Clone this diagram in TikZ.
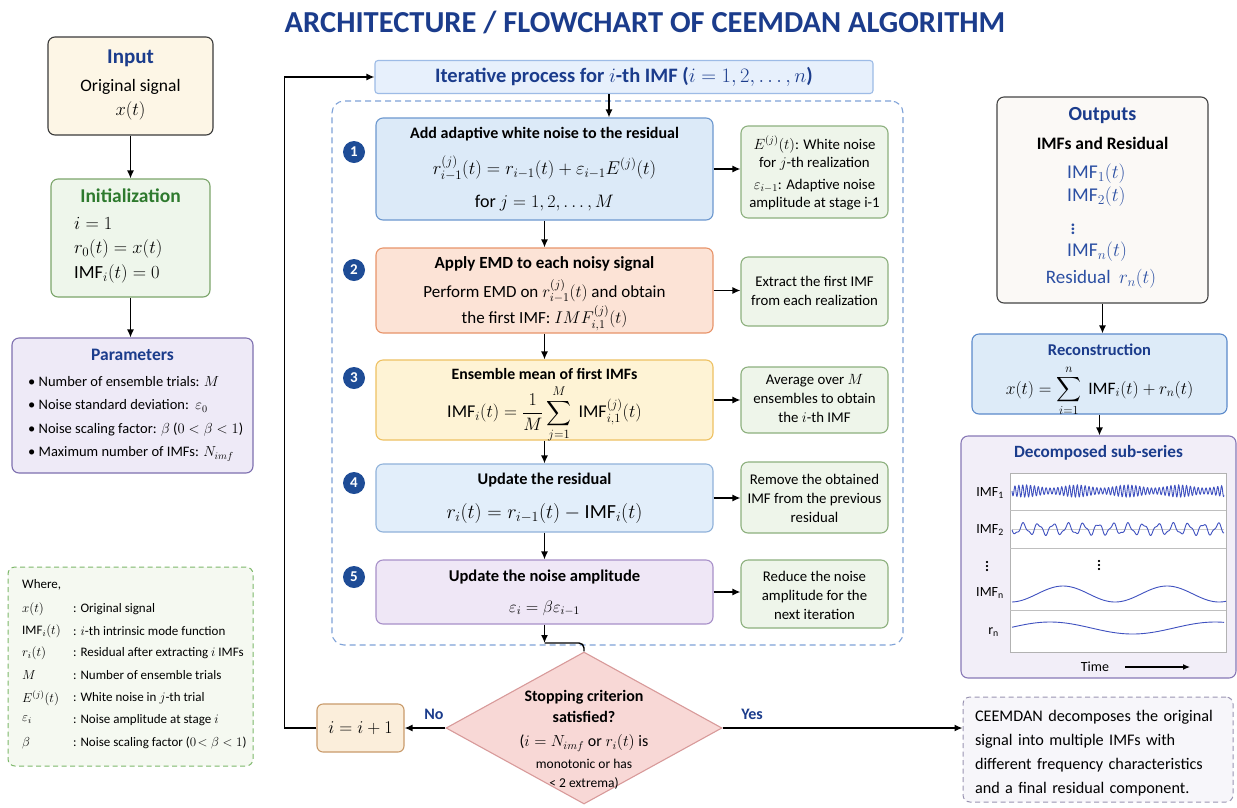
\RequirePackage{fix-cm}
\documentclass[tikz,border=0pt]{standalone}
\usepackage{amsmath}
\usepackage{fontspec}
\setmainfont{Carlito}
\usetikzlibrary{shapes.geometric,arrows.meta,calc}
\newcommand{\fs}[2]{\fontsize{#1}{#2}\selectfont}
\definecolor{titleblue}{HTML}{1B3C8C}
\definecolor{inputfill}{HTML}{FDF6E6}
\definecolor{inputdraw}{HTML}{3A3A3A}
\definecolor{initfill}{HTML}{EEF6EB}
\definecolor{initdraw}{HTML}{7BA56A}
\definecolor{initgreen}{HTML}{2E7A2E}
\definecolor{paramfill}{HTML}{EEEAF7}
\definecolor{paramdraw}{HTML}{7E70B0}
\definecolor{wherefill}{HTML}{F5F9F1}
\definecolor{wheredraw}{HTML}{7DB86A}
\definecolor{headfill}{HTML}{E7F0FC}
\definecolor{headdraw}{HTML}{9DBBE6}
\definecolor{dashblue}{HTML}{7FA2D8}
\definecolor{sAfill}{HTML}{DCEAF8}
\definecolor{sAdraw}{HTML}{6C98CF}
\definecolor{sBfill}{HTML}{FCE3D6}
\definecolor{sBdraw}{HTML}{E8946A}
\definecolor{sCfill}{HTML}{FEF3D5}
\definecolor{sCdraw}{HTML}{EEC162}
\definecolor{sDfill}{HTML}{E2EEFA}
\definecolor{sDdraw}{HTML}{90B2DA}
\definecolor{sEfill}{HTML}{EFE7F6}
\definecolor{sEdraw}{HTML}{A890C9}
\definecolor{circblue}{HTML}{1E4C96}
\definecolor{notefill}{HTML}{EEF5EA}
\definecolor{notedraw}{HTML}{8DB07E}
\definecolor{outfill}{HTML}{FBF9F6}
\definecolor{outdraw}{HTML}{444444}
\definecolor{outblue}{HTML}{2B4FA3}
\definecolor{recfill}{HTML}{DDEBF8}
\definecolor{recdraw}{HTML}{5B8ACB}
\definecolor{decfill}{HTML}{F2EEF8}
\definecolor{decdraw}{HTML}{8878B6}
\definecolor{wavecol}{HTML}{3F51C0}
\definecolor{incfill}{HTML}{FBEEDB}
\definecolor{incdraw}{HTML}{C99B6B}
\definecolor{diafill}{HTML}{F8D8D6}
\definecolor{diadraw}{HTML}{D89A9A}
\definecolor{sumfill}{HTML}{F7F6FA}
\definecolor{sumdraw}{HTML}{9A94B2}
\begin{document}
\begin{tikzpicture}[x=1pt,y=-1pt,
  arr/.style={-{Latex[length=8pt,width=7pt]}, line width=1.4pt},
  box/.style={draw, rounded corners=7pt, line width=1.1pt, inner sep=0pt},
  sz/.style n args={2}{minimum width=#1pt, minimum height=#2pt},
  lab/.style={inner sep=0pt, align=center},
  num/.style={circle, fill=circblue, text=white, font=\fs{15}{17}\bfseries, minimum size=22pt, inner sep=0pt},
  notetxt/.style={inner sep=0pt, align=center, font=\fs{14.8}{19}},
  wave/.style={wavecol, line width=0.9pt},
]
\useasboundingbox (0,0) rectangle (1237,807);
\fill[white] (0,0) rectangle (1237,807);

% title
\node[lab, font=\fs{30.5}{36}\bfseries, text=titleblue] (title) at (645,22) {ARCHITECTURE / FLOWCHART OF CEEMDAN ALGORITHM};

% ---------- left column ----------
\node[box, sz={165}{98}, fill=inputfill, draw=inputdraw] (inp) at (130.5,86) {};
\node[lab, font=\fs{21}{25}\bfseries, text=titleblue] (inpT) at (130.5,58) {Input};
\node[lab, font=\fs{17.5}{20}] (inpA) at (130.5,87) {Original signal};
\node[lab, font=\fs{18.5}{21}] (inpB) at (130.5,111) {$x(t)$};

\node[box, sz={159}{118}, fill=initfill, draw=initdraw] (init) at (130.5,238) {};
\node[lab, font=\fs{19.5}{23}\bfseries, text=initgreen] (initT) at (130.5,196) {Initialization};
\node[lab, anchor=west, font=\fs{18.5}{21}] (initA) at (74,223) {$i = 1$};
\node[lab, anchor=west, font=\fs{18.5}{21}] (initB) at (74,249) {$r_0(t) = x(t)$};
\node[lab, anchor=west, font=\fs{18.5}{21}] (initC) at (74,274) {$\mathrm{IMF}_i(t) = 0$};

\node[box, sz={241}{135}, fill=paramfill, draw=paramdraw] (par) at (132.5,405.5) {};
\node[lab, font=\fs{17.5}{20}\bfseries, text=titleblue] (parT) at (132.5,355) {Parameters};
\node[lab, anchor=west, font=\fs{14.5}{17}] (parA) at (28,382) {\textbullet\ Number of ensemble trials: $M$};
\node[lab, anchor=west, font=\fs{14.5}{17}] (parB) at (28,406) {\textbullet\ Noise standard deviation:\ \ $\varepsilon_0$};
\node[lab, anchor=west, font=\fs{14.5}{17}] (parC) at (28,430) {\textbullet\ Noise scaling factor: $\beta$ ($0<\beta<1$)};
\node[lab, anchor=west, font=\fs{14.5}{17}] (parD) at (28,454) {\textbullet\ Maximum number of IMFs: $N_{imf}$};

\draw[arr] (inp.south) -- (init.north);
\draw[arr] (init.south) -- (init.south |- par.north);

% where box
\node[box, sz={245}{199}, fill=wherefill, draw=wheredraw, dashed, dash pattern=on 5pt off 3.5pt, line width=1pt] (where) at (130.5,666.5) {};
\node[lab, anchor=west, font=\fs{13}{15}] (wh0) at (22,585) {Where,};
\foreach \i/\s/\d/\y in {1/{$x(t)$}/{: Original signal}/609,
  2/{IMF$_i(t)$}/{: $i$-th intrinsic mode function}/631,
  3/{$r_i(t)$}/{: Residual after extracting $i$ IMFs}/653,
  4/{$M$}/{: Number of ensemble trials}/675,
  5/{$E^{(j)}(t)$}/{: White noise in $j$-th trial}/698,
  6/{$\varepsilon_i$}/{: Noise amplitude at stage $i$}/720,
  7/{$\beta$}/{: Noise scaling factor ($0\!<\beta<1$)}/743}{
  \node[lab, anchor=west, font=\fs{13}{15}] (whs\i) at (22,\y) {\s};
  \node[lab, anchor=west, font=\fs{13}{15}] (whd\i) at (73,\y) {\d};
}

% ---------- middle ----------
\node[box, sz={498}{33}, fill=headfill, draw=headdraw, rounded corners=3pt] (head) at (624,77) {};
\node[lab, font=\fs{20.5}{24}\bfseries, text=titleblue] (headT) at (624,77) {Iterative process for $i$-th IMF ($i = 1, 2, \ldots, n$)};

\node[draw=dashblue, dashed, dash pattern=on 6pt off 4pt, line width=1.1pt, rounded corners=12pt, sz={571}{544}, inner sep=0pt] (loop) at (617.5,373) {};

\node[box, sz={337}{102}, fill=sAfill, draw=sAdraw] (s1) at (544.5,169) {};
\node[lab, font=\fs{16}{18}\bfseries] (s1T) at (544.5,134) {Add adaptive white noise to the residual};
\node[lab, font=\fs{18.5}{21}] (s1A) at (544.5,168) {$r_{i-1}^{(j)}(t) = r_{i-1}(t) + \varepsilon_{i-1}E^{(j)}(t)$};
\node[lab, font=\fs{18}{21}] (s1B) at (544.5,203) {for $j = 1, 2, \ldots, M$};

\node[box, sz={337}{85}, fill=sBfill, draw=sBdraw] (s2) at (544.5,290.5) {};
\node[lab, font=\fs{17}{19}\bfseries] (s2T) at (544.5,264) {Apply EMD to each noisy signal};
\node[lab, font=\fs{17}{19}] (s2A) at (544.5,291) {Perform EMD on $r_{i-1}^{(j)}(t)$ and obtain};
\node[lab, font=\fs{17}{19}] (s2B) at (544.5,318) {the first IMF: $IMF_{i,1}^{(j)}(t)$};

\node[box, sz={337}{80}, fill=sCfill, draw=sCdraw] (s3) at (544.5,400) {};
\node[lab, font=\fs{15.8}{18}\bfseries] (s3T) at (544.5,374) {Ensemble mean of first IMFs};
\node[lab, font=\fs{18}{21}] (s3A) at (544.5,414) {$\mathrm{IMF}_i(t) = \dfrac{1}{M}\displaystyle\sum_{j=1}^{M}\ \mathrm{IMF}_{i,1}^{(j)}(t)$};

\node[box, sz={337}{68}, fill=sDfill, draw=sDdraw] (s4) at (544.5,498) {};
\node[lab, font=\fs{16.3}{18}\bfseries] (s4T) at (544.5,480) {Update the residual};
\node[lab, font=\fs{20}{23}] (s4A) at (544.5,513) {$r_i(t) = r_{i-1}(t) - \mathrm{IMF}_i(t)$};

\node[box, sz={337}{64}, fill=sEfill, draw=sEdraw] (s5) at (544.5,592) {};
\node[lab, font=\fs{16.5}{18}\bfseries] (s5T) at (544.5,577) {Update the noise amplitude};
\node[lab, font=\fs{16.5}{19}] (s5A) at (544.5,608) {$\varepsilon_i = \beta\varepsilon_{i-1}$};

\node[num] (c1) at (354,152) {1};
\node[num] (c2) at (354,270) {2};
\node[num] (c3) at (354,378) {3};
\node[num] (c4) at (354,483) {4};
\node[num] (c5) at (354,577) {5};

\draw[arr] ([xshift=-15pt]head.south) -- ([xshift=-15pt]head.south |- s1.north);
\draw[arr] (s1.south) -- (s2.north);
\draw[arr] (s2.south) -- (s3.north);
\draw[arr] (s3.south) -- (s4.north);
\draw[arr] (s4.south) -- (s5.north);

% notes
\node[box, sz={147}{92}, fill=notefill, draw=notedraw] (n1) at (814.5,172) {};
\node[notetxt] (n1T) at (814.5,173) {$E^{(j)}(t)$: White noise\\[-1pt] for $j$-th realization\\[3pt] $\varepsilon_{i-1}$: Adaptive noise\\[-1pt] amplitude at stage i-1};
\node[box, sz={147}{69}, fill=notefill, draw=notedraw] (n2) at (814.5,291.5) {};
\node[notetxt] (n2T) at (814.5,291) {Extract the first IMF\\ from each realization};
\node[box, sz={147}{66}, fill=notefill, draw=notedraw] (n3) at (814.5,400) {};
\node[notetxt] (n3T) at (814.5,398) {Average over $M$\\ ensembles to obtain\\ the $i$-th IMF};
\node[box, sz={147}{71}, fill=notefill, draw=notedraw] (n4) at (814.5,497.5) {};
\node[notetxt] (n4T) at (814.5,498) {Remove the obtained\\ IMF from the previous\\ residual};
\node[box, sz={147}{68}, fill=notefill, draw=notedraw] (n5) at (814.5,594) {};
\node[notetxt] (n5T) at (814.5,595) {Reduce the noise\\ amplitude for the\\ next iteration};

\draw[arr] (s1.east) -- (s1.east -| n1.west);
\draw[arr] (s2.east) -- (s2.east -| n2.west);
\draw[arr] (s3.east) -- (s3.east -| n3.west);
\draw[arr] (s4.east) -- (s4.east -| n4.west);
\draw[arr] (s5.east) -- (s5.east -| n5.west);

% decision
\node[diamond, draw=diadraw, fill=diafill, line width=1.1pt, sz={276}{152}, inner sep=0pt] (dia) at (584,728) {};
\node[lab, font=\fs{16}{18}\bfseries] (diaA) at (584,697) {Stopping criterion};
\node[lab, font=\fs{16}{18}\bfseries] (diaB) at (584,717) {satisfied?};
\node[lab, font=\fs{16}{18}] (diaC) at (584,743) {($i = N_{imf}$ or $r_i(t)$ is};
\node[lab, font=\fs{13.5}{16}] (diaD) at (584,764) {monotonic or has};
\node[lab, font=\fs{13.5}{16}] (diaE) at (584,783) {< 2 extrema)};

\coordinate (j5) at (544.5,643);
\draw[arr] (s5.south) -- (j5);
\draw[line width=1.4pt, rounded corners=5pt] (j5) -| (dia.north);

\node[box, sz={87}{48}, fill=incfill, draw=incdraw, rounded corners=6pt] (inc) at (360.5,728) {};
\node[lab, font=\fs{18}{21}] (incT) at (360.5,728) {$i = i + 1$};

\draw[arr] (dia.west) -- (inc.east);
\node[lab, font=\fs{16}{18}\bfseries, text=titleblue] (no) at (434,714) {No};
\draw[arr] (inc.west) -- ++(-32,0) |- (head.west);

% ---------- right column ----------
\node[box, sz={211}{206}, fill=outfill, draw=outdraw] (out) at (1102.5,200) {};
\node[lab, font=\fs{20}{24}\bfseries, text=titleblue] (outT) at (1102.5,116) {Outputs};
\node[lab, font=\fs{17.5}{20}\bfseries] (outS) at (1102.5,143) {IMFs and Residual};
\node[lab, anchor=west, font=\fs{19.5}{22}, text=outblue] (o1) at (1067,174) {IMF$_1(t)$};
\node[lab, anchor=west, font=\fs{19.5}{22}, text=outblue] (o2) at (1067,197) {IMF$_2(t)$};
\node[lab, font=\fs{18}{20}\bfseries, text=outblue] (o3) at (1073,226) {$\boldsymbol{\vdots}$};
\node[lab, anchor=west, font=\fs{19.5}{22}, text=outblue] (o4) at (1067,252) {IMF$_n(t)$};
\node[lab, font=\fs{19}{22}, text=outblue] (o5) at (1101,279) {Residual\ \ $r_n(t)$};

\node[box, sz={255}{80}, fill=recfill, draw=recdraw] (rec) at (1099.5,374) {};
\node[lab, font=\fs{16.5}{19}\bfseries, text=titleblue] (recT) at (1099.5,350) {Reconstruction};
\node[lab, font=\fs{17.5}{20}] (recA) at (1099.5,391) {$x(t) = \displaystyle\sum_{i=1}^{n}\ \mathrm{IMF}_i(t) + r_n(t)$};

\draw[arr] (out.south) -- (out.south |- rec.north);

\node[box, sz={275}{242}, fill=decfill, draw=decdraw] (dec) at (1098.5,557) {};
\node[lab, font=\fs{17.2}{20}\bfseries, text=titleblue] (decT) at (1098.5,453) {Decomposed sub-series};
\draw[arr] (rec.south) -- (rec.south |- dec.north);

\draw[gray!60, fill=white, line width=0.8pt] (1010,473) rectangle (1226,652);
\draw[gray!50, line width=0.8pt] (1010,510) -- (1226,510);
\draw[gray!50, line width=0.8pt] (1010,548) -- (1226,548);
\draw[gray!50, line width=0.8pt] (1010,610) -- (1226,610);
\draw[gray!40, line width=0.4pt] (1012,529) -- (1224,529);

\draw[wave] plot[domain=0:212, samples=900] ({1012+\x}, {491+(4.5+1.5*sin(7*\x))*sin(360*mod(\x,3.9)/3.9)});
\draw[wave] plot[domain=0:212, samples=500, smooth] ({1012+\x}, {529+5*sin(24*\x)+1.5*sin(55*\x+30)});
\draw[wave] plot[domain=0:214, samples=120, smooth] ({1012+\x}, {594-8*cos(3.46*(\x-51))});
\draw[wave] plot[domain=0:212, samples=120, smooth] ({1012+\x}, {628-6*cos(2.18*(\x-38))});

\node[lab, anchor=east, font=\fs{14}{16}] (dl1) at (1004,493) {IMF\textsubscript{1}};
\node[lab, anchor=east, font=\fs{14}{16}] (dl2) at (1004,530) {IMF\textsubscript{2}};
\node[lab, font=\fs{15}{18}\bfseries] (dl3) at (987,563) {$\boldsymbol{\vdots}$};
\node[lab, font=\fs{15}{18}\bfseries] (dl3b) at (1099,562) {$\boldsymbol{\vdots}$};
\node[lab, anchor=east, font=\fs{14}{16}] (dl4) at (1004,593) {IMF\textsubscript{n}};
\node[lab, anchor=east, font=\fs{14}{16}] (dl5) at (999,632) {r\textsubscript{n}};

\node[lab, font=\fs{14}{16}] (time) at (1095,667) {Time};
\coordinate (tstart) at (1125,667);
\coordinate (tend) at (1190,667);
\draw[-{Latex[length=7pt,width=6pt]}, line width=1.2pt] (tstart) -- (tend);

% summary
\node[box, sz={270}{105}, fill=sumfill, draw=sumdraw, dashed, dash pattern=on 5pt off 3.5pt, line width=1pt] (sum) at (1098,749.5) {};
\node[inner sep=0pt, align=left, text width=248pt, font=\fs{16.2}{24}] (sumT) at (1099,753) {CEEMDAN decomposes the original\\ signal into multiple IMFs with\\ different frequency characteristics\\ and a final residual component.};

\draw[arr] (dia.east) -- (dia.east -| sum.west);
\node[lab, font=\fs{16}{18}\bfseries, text=titleblue] (yes) at (752,714) {Yes};

\end{tikzpicture}
\end{document}
